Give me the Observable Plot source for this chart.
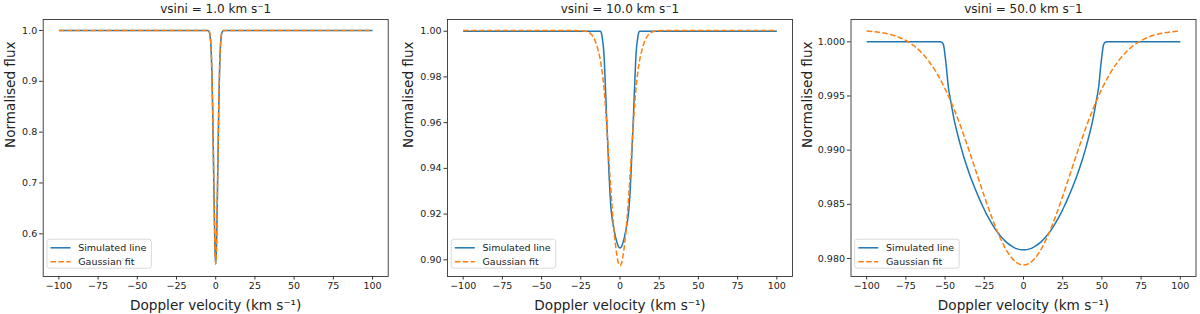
<!DOCTYPE html>
<html><head><meta charset="utf-8">
<script src="https://cdn.jsdelivr.net/npm/d3@7"></script>
<script src="https://cdn.jsdelivr.net/npm/@observablehq/plot@0.6"></script>
<style>
body{margin:0;background:#fff}
#wrap{position:relative;width:1200px;height:314px;overflow:hidden;background:#fff}
#wrap svg{position:absolute;top:0}
</style></head><body><div id="wrap"></div>
<script>
const titles = ["vsini = 1.0 km s\u207B1", "vsini = 10.0 km s\u207B1", "vsini = 50.0 km s\u207B1"];
const xLabel = "Doppler velocity (km s\u207B\u00B9)";
const yLabel = "Normalised flux";
const seriesNames = ["Simulated line", "Gaussian fit"];
const xTicks = [-100, -75, -50, -25, 0, 25, 50, 75, 100];
const yTicks1 = [0.6, 0.7, 0.8, 0.9, 1.0];
const yTicks2 = [0.90, 0.92, 0.94, 0.96, 0.98, 1.00];
const yTicks3 = [0.980, 0.985, 0.990, 0.995, 1.000];

// Panel 1: vsini = 1 km/s
const v1 = [-100,-10,-5,-4,-3.5,-3,-2.5,-2,-1.5,-1,-0.5,0,0.5,1,1.5,2,2.5,3,3.5,4,5,10,100];
const sim1 = [1,1,1,0.996,0.988,0.968,0.925,0.855,0.76,0.66,0.575,0.54,0.575,0.66,0.76,0.855,0.925,0.968,0.988,0.996,1,1,1];
const fit1 = [1,1,1,0.997,0.989,0.969,0.926,0.856,0.761,0.661,0.576,0.541,0.576,0.661,0.761,0.856,0.926,0.969,0.989,0.997,1,1,1];

// Panel 2: vsini = 10 km/s
const v2sim = [-100,-20,-12.5,-12,-11.5,-11,-10.5,-10,-9.5,-9,-8.5,-8,-7.5,-7,-6.5,-6,-5,-4,-3,-2,-1,0,1,2,3,4,5,6,6.5,7,7.5,8,8.5,9,9.5,10,10.5,11,11.5,12,12.5,20,100];
const sim2 = [1,1,1,0.9995,0.998,0.9955,0.9925,0.987,0.979,0.9705,0.9615,0.9535,0.9455,0.9375,0.9305,0.9248,0.918,0.914,0.9105,0.9078,0.9058,0.9052,0.9058,0.9078,0.9105,0.914,0.918,0.9248,0.9305,0.9375,0.9455,0.9535,0.9615,0.9705,0.979,0.987,0.9925,0.9955,0.998,0.9995,1,1,1];
const v2fit = [-100,-30,-25,-22,-20,-18,-16,-14,-12,-10,-8,-6,-4,-2,-1,0,1,2,4,6,8,10,12,14,16,18,20,22,25,30,100];
const fit2 = [1.0003,1.0003,1.0002,1.0,0.9995,0.9984,0.996,0.9918,0.9852,0.9735,0.954,0.9325,0.914,0.902,0.8985,0.8975,0.8985,0.902,0.914,0.9325,0.954,0.9735,0.9852,0.9918,0.996,0.9984,0.9995,1.0,1.0002,1.0003,1.0003];

// Panel 3: vsini = 50 km/s
const v3sim = [-100,-53,-52,-51,-50.5,-50,-49.5,-49,-48,-47,-46,-44,-42,-40,-38,-36,-34,-32,-30,-28,-26,-24,-22,-20,-18,-16,-14,-12,-10,-8,-6,-4,-2,0,2,4,6,8,10,12,14,16,18,20,22,24,26,28,30,32,34,36,38,40,42,44,46,47,48,49,49.5,50,50.5,51,52,53,100];
const sim3 = [1,1,0.99995,0.9997,0.9993,0.9987,0.9981,0.9974,0.9959,0.9950,0.9942,0.99265,0.99145,0.99035,0.98935,0.98845,0.98762,0.98685,0.98614,0.98546,0.98482,0.98422,0.98368,0.98318,0.98272,0.98231,0.98196,0.98165,0.98139,0.98118,0.98101,0.98089,0.98082,0.9808,0.98082,0.98089,0.98101,0.98118,0.98139,0.98165,0.98196,0.98231,0.98272,0.98318,0.98368,0.98422,0.98482,0.98546,0.98614,0.98685,0.98762,0.98845,0.98935,0.99035,0.99145,0.99265,0.9942,0.9950,0.9959,0.9974,0.9981,0.9987,0.9993,0.9997,0.99995,1,1];
const v3fit = [-100,-95,-90,-85,-80,-75,-70,-65,-60,-55,-50,-45,-40,-35,-30,-25,-20,-15,-10,-5,0,5,10,15,20,25,30,35,40,45,50,55,60,65,70,75,80,85,90,95,100];
const fit3 = [1.00099,1.00093,1.00083,1.00068,1.00045,1.00012,0.99965,0.99900,0.99814,0.99703,0.99566,0.99403,0.99216,0.99009,0.98792,0.98575,0.98371,0.98194,0.98056,0.97969,0.97939,0.97969,0.98056,0.98194,0.98371,0.98575,0.98792,0.99009,0.99216,0.99403,0.99566,0.99703,0.99814,0.99900,0.99965,1.00012,1.00045,1.00068,1.00083,1.00093,1.00099];

const rows = (vs, fs) => vs.map((v, i) => ({v, flux: fs[i]}));

const panels = [
  {left: 0,   ml: 42.7, yDomain: [0.516, 1.02164], yTicks: yTicks1, fmt: d3.format(".1f"), ylOff: 32.3,
   sim: rows(v1, sim1), fit: rows(v1, fit1)},
  {left: 400, ml: 47,   yDomain: [0.8927, 1.00512], yTicks: yTicks2, fmt: d3.format(".2f"), ylOff: 39.3,
   sim: rows(v2sim, sim2), fit: rows(v2fit, fit2)},
  {left: 800, ml: 50.5, yDomain: [0.97834, 1.00206], yTicks: yTicks3, fmt: d3.format(".3f"), ylOff: 43.1,
   sim: rows(v3sim, sim3), fit: rows(v3fit, fit3)}
];

const FW = 345;
const blue = "#1f77b4", orange = "#ff7f0e", ink = "#333";
const dash = "5.5,2.4";
const wrap = document.getElementById("wrap");

panels.forEach((p, i) => {
  const chart = Plot.plot({
    width: 400, height: 314,
    marginTop: 19, marginBottom: 38, marginLeft: p.ml, marginRight: 400 - p.ml - FW,
    style: {fontFamily: "DejaVu Sans, sans-serif", fontSize: "9.5px", color: "#222", background: "transparent", overflow: "visible"},
    x: {domain: [-110, 110]},
    y: {domain: p.yDomain},
    marks: [
      Plot.axisX({ticks: xTicks, tickSize: 3.5, tickPadding: 2.5, tickFormat: d3.format("d"), label: null, stroke: ink}),
      Plot.axisY({ticks: p.yTicks, tickSize: 3.5, tickPadding: 2.5, tickFormat: p.fmt, label: null, stroke: ink}),
      Plot.line(p.sim, {x: "v", y: "flux", stroke: blue, strokeWidth: 1.5, curve: "monotone-x", strokeLinecap: "butt"}),
      Plot.line(p.fit, {x: "v", y: "flux", stroke: orange, strokeWidth: 1.5, strokeDasharray: dash, strokeLinecap: "butt", curve: "monotone-x"}),
      Plot.frame({stroke: ink, strokeWidth: 0.9}),
      Plot.text([titles[i]], {text: d => d, frameAnchor: "top", dy: -6.2, lineAnchor: "bottom", fontSize: 12, fill: "#222"}),
      Plot.text([xLabel], {text: d => d, frameAnchor: "bottom", dy: 33, lineAnchor: "bottom", fontSize: 13.6, fill: "#222"}),
      Plot.text([yLabel], {text: d => d, frameAnchor: "left", dx: -p.ylOff, rotate: -90, lineAnchor: "middle", fontSize: 13.6, fill: "#222"})
    ]
  });
  chart.style.left = p.left + "px";
  // legend
  const svg = d3.select(chart);
  const g = svg.append("g").attr("transform", `translate(${p.ml + 4.2},239.2)`)
    .attr("font-family", "DejaVu Sans, sans-serif").attr("font-size", 9.5).attr("text-anchor", "start");
  g.append("rect").attr("width", 104.5).attr("height", 29).attr("rx", 2.5)
    .attr("fill", "white").attr("fill-opacity", 0.8).attr("stroke", "#d0d0d0").attr("stroke-width", 0.8);
  const ys = [8.6, 22.6];
  [blue, orange].forEach((c, k) => {
    g.append("line").attr("x1", 3.6).attr("x2", 23.6).attr("y1", ys[k]).attr("y2", ys[k])
      .attr("stroke", c).attr("stroke-width", 1.5).attr("stroke-dasharray", k ? dash : null);
    g.append("text").attr("x", 31.3).attr("y", ys[k]).attr("dy", "0.35em").attr("fill", "#222")
      .attr("text-anchor", "start").text(seriesNames[k]);
  });
  wrap.appendChild(chart);
});
</script></body></html>
